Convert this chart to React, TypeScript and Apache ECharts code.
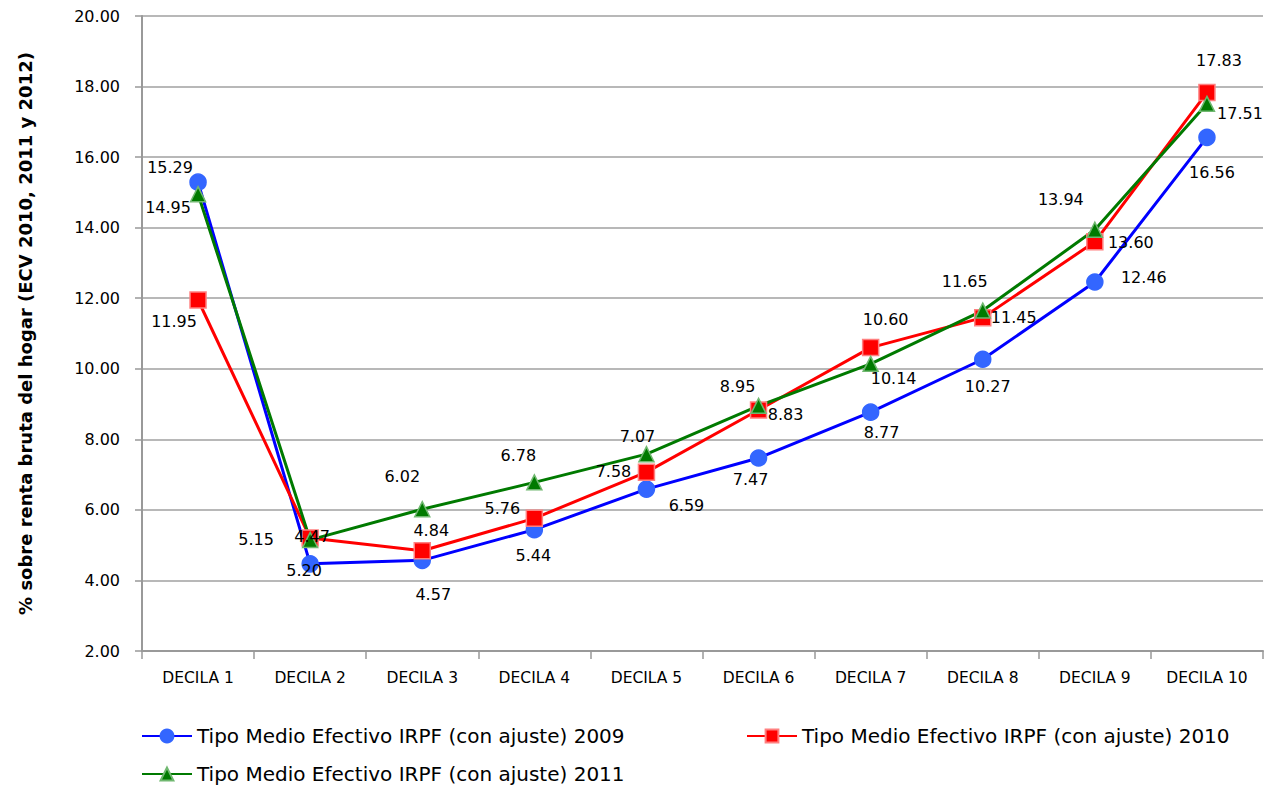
import React, { useEffect, useRef } from "react";
import * as echarts from "echarts";

const categories = ["DECILA 1", "DECILA 2", "DECILA 3", "DECILA 4", "DECILA 5", "DECILA 6", "DECILA 7", "DECILA 8", "DECILA 9", "DECILA 10"];
const seriesNames = [
  "Tipo Medio Efectivo IRPF (con ajuste) 2009",
  "Tipo Medio Efectivo IRPF (con ajuste) 2010",
  "Tipo Medio Efectivo IRPF (con ajuste) 2011",
];
const values2009 = [15.29, 4.47, 4.57, 5.44, 6.59, 7.47, 8.77, 10.27, 12.46, 16.56];
const values2010 = [11.95, 5.2, 4.84, 5.76, 7.07, 8.83, 10.6, 11.45, 13.6, 17.83];
const values2011 = [14.95, 5.15, 6.02, 6.78, 7.58, 8.95, 10.14, 11.65, 13.94, 17.51];
const yTicks = { min: 2, max: 20, interval: 2 };
const yAxisName = "% sobre renta bruta del hogar (ECV 2010, 2011 y 2012)";

// label placement (pixel offsets from each marker), styling only
const offs2009 = [[-28, -15], [2, -27], [11, 34], [-1, 26], [40, 16], [-8, 21], [11, 20], [5, 27], [49, -4], [5, 35]];
const offs2010 = [[-24, 22], [-6, 32], [9, -20], [-32, -10], [-9, -36], [27, 4], [15, -28], [31, 0], [36, 1], [12, -32]];
const offs2011 = [[-30, 13], [-54, 0], [-20, -33], [-16, -27], [-33, 17], [-21, -19], [23, 15], [-18, -29], [-34, -30], [33, 10]];

const FONT = "DejaVu Sans";

function mkSeries(name: string, vals: number[], offs: number[][], lineColor: string, symbol: string, fill: string, border: string, size: number) {
  return {
    name,
    type: "line",
    data: vals.map((v, i) => ({ value: v, label: { offset: offs[i] } })),
    symbol,
    symbolSize: size,
    showAllSymbol: true,
    lineStyle: { color: lineColor, width: 3 },
    itemStyle: { color: fill, borderColor: border, borderWidth: 1.5 },
    label: {
      show: true,
      position: "inside",
      formatter: (p: any) => Number(p.value).toFixed(2),
      color: "#000",
      fontSize: 16,
      fontFamily: FONT,
      textBorderWidth: 0,
    },
    emphasis: { disabled: true },
  };
}

export default function App() {
  const ref = useRef<HTMLDivElement>(null);
  useEffect(() => {
    const chart = echarts.init(ref.current!, null, { renderer: "svg" });
    const legendBase = {
      itemWidth: 50,
      itemHeight: 16,
      itemGap: 0,
      textStyle: { fontSize: 20, fontFamily: FONT, color: "#000" },
      padding: 0,
    };
    chart.setOption({
      animation: false,
      textStyle: { fontFamily: FONT },
      grid: { left: 142, right: 22, top: 16, bottom: 140, containLabel: false },
      legend: [
        { ...legendBase, data: [seriesNames[0]], left: 141, top: 726 },
        { ...legendBase, data: [seriesNames[1]], left: 746, top: 726 },
        { ...legendBase, data: [seriesNames[2]], left: 141, top: 764 },
      ],
      xAxis: {
        type: "category",
        data: categories,
        boundaryGap: true,
        axisLine: { lineStyle: { color: "#999", width: 2 } },
        axisTick: { show: true, length: 8, lineStyle: { color: "#999", width: 1.5 } },
        axisLabel: { fontSize: 15.5, fontFamily: FONT, color: "#000", margin: 19 },
        splitLine: { show: false },
      },
      yAxis: {
        type: "value",
        min: yTicks.min,
        max: yTicks.max,
        interval: yTicks.interval,
        name: yAxisName,
        nameLocation: "middle",
        nameGap: 108,
        nameTextStyle: { fontSize: 18, fontWeight: "bold", fontFamily: FONT, color: "#000" },
        axisLine: { show: true, lineStyle: { color: "#999", width: 2 } },
        axisTick: { show: true, length: 7, lineStyle: { color: "#999", width: 1.5 } },
        axisLabel: { fontSize: 16, fontFamily: FONT, color: "#000", margin: 22, formatter: (v: number) => v.toFixed(2) },
        splitLine: { show: true, lineStyle: { color: "#a0a0a0", width: 1.5 } },
      },
      series: [
        mkSeries(seriesNames[0], values2009, offs2009, "#0000ff", "circle", "#3366ff", "#3366ff", 16),
        mkSeries(seriesNames[1], values2010, offs2010, "#ff0000", "rect", "#ff0000", "#ff8080", 16),
        mkSeries(seriesNames[2], values2011, offs2011, "#007a00", "triangle", "#007a00", "#70b870", 15),
      ],
    });
    return () => chart.dispose();
  }, []);
  return <div ref={ref} style={{ position: "absolute", left: 0, top: 0, width: 1285, height: 791 }} />;
}
